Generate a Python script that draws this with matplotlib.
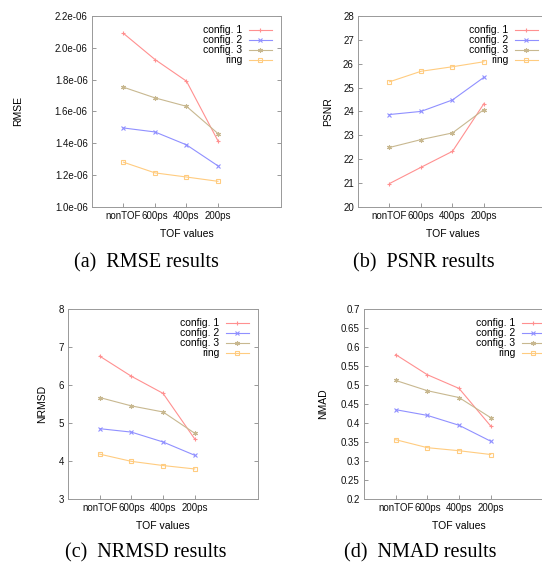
import matplotlib
matplotlib.use("Agg")
import matplotlib.pyplot as plt

# categories on the x axis
tof_labels = ["nonTOF", "600ps", "400ps", "200ps"]
series_names = ["config. 1", "config. 2", "config. 3", "ring"]

# RMSE values
rmse_cfg1 = [2.09e-6, 1.926e-6, 1.79e-6, 1.415e-6]
rmse_cfg2 = [1.496e-6, 1.471e-6, 1.39e-6, 1.258e-6]
rmse_cfg3 = [1.752e-6, 1.685e-6, 1.632e-6, 1.461e-6]
rmse_ring = [1.281e-6, 1.214e-6, 1.188e-6, 1.161e-6]

# PSNR values
psnr_cfg1 = [20.98, 21.66, 22.33, 24.33]
psnr_cfg2 = [23.87, 24.0, 24.48, 25.43]
psnr_cfg3 = [22.49, 22.82, 23.10, 24.08]
psnr_ring = [25.24, 25.68, 25.87, 26.08]

# NRMSD values
nrmsd_cfg1 = [6.76, 6.23, 5.78, 4.58]
nrmsd_cfg2 = [4.85, 4.76, 4.50, 4.15]
nrmsd_cfg3 = [5.67, 5.45, 5.29, 4.73]
nrmsd_ring = [4.18, 3.99, 3.88, 3.79]

# NMAD values
nmad_cfg1 = [0.580, 0.527, 0.491, 0.392]
nmad_cfg2 = [0.435, 0.420, 0.394, 0.352]
nmad_cfg3 = [0.512, 0.485, 0.467, 0.414]
nmad_ring = [0.356, 0.335, 0.327, 0.317]

colors = ["#ff9090", "#9090ff", "#c8b890", "#ffcc80"]
markers = ["+", "x", (6, 2, 0), "s"]

plt.rcParams["font.family"] = ["Liberation Sans", "DejaVu Sans"]

fig = plt.figure(figsize=(5.42, 5.67), dpi=100)


def panel(rect, data, ylabel, ylab_x, ylim, yticks, ytick_fmt, caption, cap_xy):
    ax = fig.add_axes(rect)
    xs = list(range(1, len(tof_labels) + 1))
    for vals, name, c, m in zip(data, series_names, colors, markers):
        ax.plot(xs, vals, color=c, marker=m, markersize=3.4,
                linewidth=0.8, markerfacecolor="none" if m == "s" else c,
                markeredgewidth=0.8, label=name)
    ax.set_xlim(0, 6)
    ax.set_ylim(*ylim)
    ax.set_xticks(xs)
    ax.set_xticklabels(tof_labels)
    ax.set_yticks(yticks)
    ax.set_yticklabels([ytick_fmt(v) for v in yticks])
    ax.tick_params(direction="in", length=3, width=0.6, color="#888888",
                   labelsize=7, labelcolor="#111111", top=False, right=True, pad=3)
    for sp in ax.spines.values():
        sp.set_color("#999999")
        sp.set_linewidth(0.7)
    ax.set_xlabel("TOF values", fontsize=7.5, labelpad=6)
    ax.set_ylabel(ylabel, fontsize=7.5)
    ax.yaxis.set_label_coords(ylab_x, 0.5)
    ax.legend(loc="upper right", frameon=False, markerfirst=False, fontsize=7.5,
              handlelength=2.2, handletextpad=0.6, labelspacing=0.0,
              borderaxespad=0.8, borderpad=0.1)
    fig.text(cap_xy[0], cap_xy[1], caption, ha="center", va="center",
             fontsize=14.5, family=["Liberation Serif", "DejaVu Serif"])
    return ax


panel([0.1697, 0.635, 0.3487, 0.337], [rmse_cfg1, rmse_cfg2, rmse_cfg3, rmse_ring],
      "RMSE", -69 / 189, (1.0e-6, 2.2e-6), [1.0e-6 + 0.2e-6 * i for i in range(7)],
      lambda v: f"{v * 1e6:.1f}e-06", "(a)  RMSE results", (146 / 542, 1 - 263 / 567))

panel([0.6605, 0.635, 0.3487, 0.337], [psnr_cfg1, psnr_cfg2, psnr_cfg3, psnr_ring],
      "PSNR", -25 / 189, (20, 28), list(range(20, 29)),
      lambda v: f"{v:d}", "(b)  PSNR results", (424 / 542, 1 - 263 / 567))

panel([0.1255, 0.12, 0.3506, 0.335], [nrmsd_cfg1, nrmsd_cfg2, nrmsd_cfg3, nrmsd_ring],
      "NRMSD", -21 / 190, (3, 8), list(range(3, 9)),
      lambda v: f"{v:d}", "(c)  NRMSD results", (146 / 542, 1 - 553 / 567))

panel([0.6716, 0.12, 0.3506, 0.335], [nmad_cfg1, nmad_cfg2, nmad_cfg3, nmad_ring],
      "NMAD", -36 / 190, (0.2, 0.7), [0.2 + 0.05 * i for i in range(11)],
      lambda v: f"{round(v, 2):g}",
      "(d)  NMAD results", (420 / 542, 1 - 553 / 567))

fig.savefig("out.png", dpi=100)
